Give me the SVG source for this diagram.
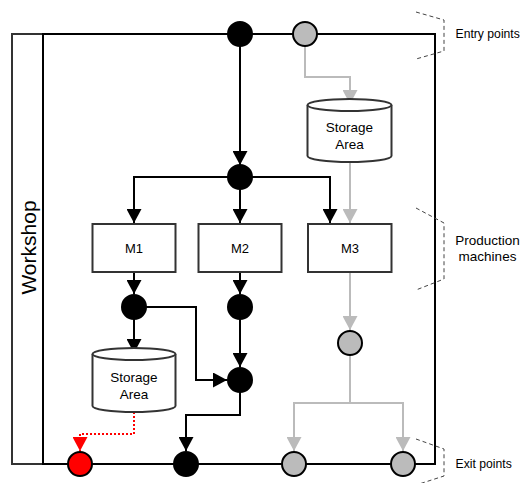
<svg xmlns="http://www.w3.org/2000/svg" width="531" height="483" viewBox="0 0 531 483">
<defs>
<style>
text{font-family:"Liberation Sans",Arial,sans-serif;fill:#000}
.lbl{font-size:13.5px;text-anchor:middle}
.m{font-size:13px;text-anchor:middle}
.side{font-size:12.2px}
.k{stroke:#000;stroke-width:2;fill:none}
.g{stroke:#bbb;stroke-width:2;fill:none}
.r{stroke:#f00;stroke-width:2;fill:none;stroke-dasharray:2 2}
.box{fill:#fff;stroke:#333;stroke-width:2}
.cyl{fill:#fff;stroke:#333;stroke-width:2}
.nk{fill:#000;stroke:#000;stroke-width:2}
.ng{fill:#bbb;stroke:#000;stroke-width:2}
.nr{fill:#f00;stroke:#000;stroke-width:2}
.br{stroke:#444;stroke-width:1;fill:none;stroke-dasharray:4 3}
</style>
<marker id="ak" markerUnits="userSpaceOnUse" markerWidth="15" markerHeight="15" refX="14" refY="7.5" orient="auto"><path d="M0,0 L14,7.5 L0,15 z" fill="#000"/></marker>
<marker id="ag" markerUnits="userSpaceOnUse" markerWidth="15" markerHeight="15" refX="14" refY="7.5" orient="auto"><path d="M0,0 L14,7.5 L0,15 z" fill="#bbb"/></marker>
<marker id="ar" markerUnits="userSpaceOnUse" markerWidth="15" markerHeight="15" refX="14" refY="7.5" orient="auto"><path d="M0,0 L14,7.5 L0,15 z" fill="#f00"/></marker>
</defs>
<rect width="531" height="483" fill="#fff"/>

<g id="workshop">
<path d="M43,34 L12,34 L12,464 L43,464" stroke="#333" stroke-width="2" fill="none"/>
<path d="M43,34 L435,34 L435,464 L43,464 Z" class="k"/>
<text transform="translate(35.5,247.5) rotate(-90)" font-size="21" text-anchor="middle">Workshop</text>
</g>

<g id="connectors">
<path d="M240,46 V165" class="k" marker-end="url(#ak)"/>
<path d="M240,177 H134 V223" class="k" marker-end="url(#ak)"/>
<path d="M240,189 V223" class="k" marker-end="url(#ak)"/>
<path d="M240,177 H330 V223" class="k" marker-end="url(#ak)"/>
<path d="M134,272 V294" class="k" marker-end="url(#ak)"/>
<path d="M240,272 V294" class="k" marker-end="url(#ak)"/>
<path d="M134,319 V353" class="k" marker-end="url(#ak)"/>
<path d="M146,307 H196 V380 H227" class="k" marker-end="url(#ak)"/>
<path d="M240,319 V367" class="k" marker-end="url(#ak)"/>
<path d="M240,392 V415 H186 V451" class="k" marker-end="url(#ak)"/>
<path d="M134,412 V434 H80 V451" class="r" marker-end="url(#ar)"/>
<path d="M305,46 V77 H350 V104" class="g" marker-end="url(#ag)"/>
<path d="M350,162 V223" class="g" marker-end="url(#ag)"/>
<path d="M350,272 V330" class="g" marker-end="url(#ag)"/>
<path d="M350,355 V403 H294 V451" class="g" marker-end="url(#ag)"/>
<path d="M350,403 H403 V451" class="g" marker-end="url(#ag)"/>
</g>

<g id="entry-black"><circle cx="240" cy="34" r="12" class="nk"/></g>
<g id="entry-gray"><circle cx="305" cy="34" r="12" class="ng"/></g>

<g id="storage-top">
<path d="M307.5,105 A42,6 0 0 1 391.5,105 V156 A42,6 0 0 1 307.5,156 Z" class="cyl"/>
<path d="M307.5,105 A42,6 0 0 0 391.5,105" class="cyl" fill="none"/>
<text class="lbl" x="349.5" y="132">Storage</text>
<text class="lbl" x="349.5" y="148.5">Area</text>
</g>

<g id="split"><circle cx="240" cy="177" r="12" class="nk"/></g>

<g id="M1"><rect x="92.5" y="224" width="83" height="48" class="box"/><text class="m" x="134" y="252.5">M1</text></g>
<g id="M2"><rect x="198.5" y="224" width="83" height="48" class="box"/><text class="m" x="240" y="252.5">M2</text></g>
<g id="M3"><rect x="308" y="224" width="83.5" height="48" class="box"/><text class="m" x="350" y="252.5">M3</text></g>

<g id="m1-out"><circle cx="134" cy="307" r="12" class="nk"/></g>
<g id="m2-out"><circle cx="240" cy="307" r="12" class="nk"/></g>
<g id="merge"><circle cx="240" cy="380" r="12" class="nk"/></g>
<g id="m3-out"><circle cx="350" cy="343" r="12" class="ng"/></g>

<g id="storage-bottom">
<path d="M92.5,354 A41.5,6 0 0 1 175.5,354 V406 A41.5,6 0 0 1 92.5,406 Z" class="cyl"/>
<path d="M92.5,354 A41.5,6 0 0 0 175.5,354" class="cyl" fill="none"/>
<text class="lbl" x="134" y="381.5">Storage</text>
<text class="lbl" x="134" y="399">Area</text>
</g>

<g id="exit-red"><circle cx="80" cy="464" r="12" class="nr"/></g>
<g id="exit-black"><circle cx="186" cy="464" r="12" class="nk"/></g>
<g id="exit-gray1"><circle cx="294" cy="464" r="12" class="ng"/></g>
<g id="exit-gray2"><circle cx="403" cy="464" r="12" class="ng"/></g>

<g id="brace-entry">
<path d="M416,12 L444,20 V51 L416,59" class="br"/>
<text class="side" x="455.5" y="38">Entry points</text>
</g>
<g id="brace-production">
<path d="M416,208 L444,223 V279 L416,290" class="br"/>
<text class="lbl" x="487.5" y="245">Production</text>
<text class="lbl" x="487.5" y="260.5">machines</text>
</g>
<g id="brace-exit">
<path d="M416,439 L444,449 V476 L416,485" class="br"/>
<text class="side" x="455.5" y="468">Exit points</text>
</g>
</svg>
